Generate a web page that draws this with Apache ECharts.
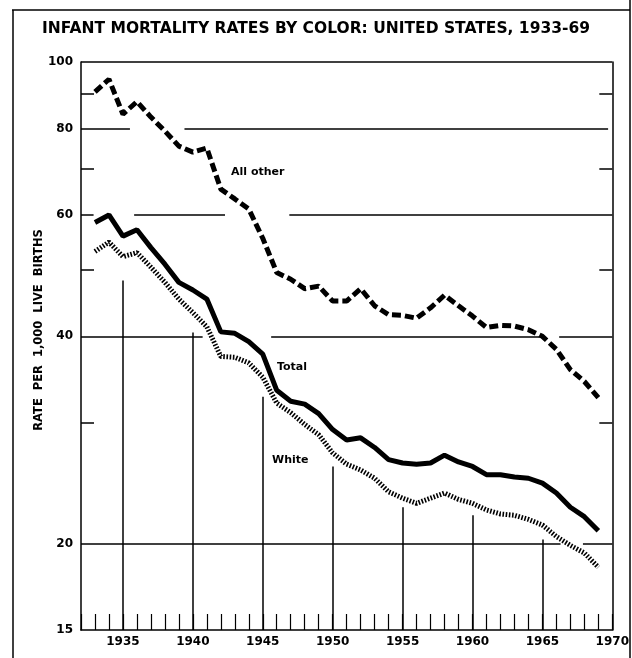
<!DOCTYPE html>
<html>
<head>
<meta charset="utf-8">
<script src="https://cdn.jsdelivr.net/npm/echarts@6/dist/echarts.min.js"></script>
<style>
	html,body{margin:0;padding:0;background:#fff;}
	#chart{width:632px;height:658px;}
</style>
</head>
<body>
<div id="chart"></div>
<script>
// rates per 1,000 live births
var years = [1933,1934,1935,1936,1937,1938,1939,1940,1941,1942,1943,1944,1945,1946,1947,1948,1949,1950,1951,1952,
	1953,1954,1955,1956,1957,1958,1959,1960,1961,1962,1963,1964,1965,1966,1967,1968,1969];
var allOther = [90.5,94.4,84.0,87.6,83.2,79.4,75.5,74.0,75.0,65.4,63.3,61.2,55.5,49.5,48.4,46.9,47.3,45.0,45.0,46.9,
	44.3,43.0,42.9,42.5,44.0,45.9,44.3,42.8,41.2,41.5,41.4,40.9,40.0,38.3,35.8,34.4,32.6];
var total = [58.5,60.0,55.9,57.1,53.8,50.9,47.9,46.7,45.3,40.6,40.4,39.3,37.7,33.4,32.2,31.9,30.9,29.3,28.3,28.5,
	27.6,26.5,26.2,26.1,26.2,26.9,26.3,25.9,25.2,25.2,25.0,24.9,24.5,23.7,22.6,21.9,20.9];
var white = [53.1,54.8,52.2,52.9,50.4,47.9,45.3,43.3,41.3,37.4,37.3,36.6,34.9,32.0,31.0,29.8,28.8,27.1,26.1,25.6,
	24.9,23.8,23.3,22.9,23.3,23.7,23.2,22.9,22.4,22.1,22.0,21.7,21.3,20.5,19.9,19.4,18.5];

var yLabels = [15,20,40,60,80,100];
var yMinor = [30,50,70,90];
var xLabels = [1935,1940,1945,1950,1955,1960,1965,1970];

function pairs(vals){
	var arr = [];
	for(var i = 0 ; i < years.length ; i++){
		arr.push([years[i], vals[i]]);
	}
	return arr;
}

function seg(x1,y1,x2,y2){
	return [{coord:[x1,y1]},{coord:[x2,y2]}];
}

initChart();

function initChart(){
	var font = 'DejaVu Sans';
	var myChart = echarts.init(document.getElementById('chart'));

	// broken grid lines and the tall year lines, as drawn in the original
	var guides = [
		seg(1932,100,1970,100),
		seg(1932,80,1935.5,80), seg(1939.4,80,1969.7,80),
		seg(1932,60,1932.9,60), seg(1935.8,60,1942.3,60), seg(1946.9,60,1970,60),
		seg(1932,40,1940.7,40), seg(1945.6,40,1964.8,40), seg(1966.2,40,1970,40),
		seg(1932,20,1966.3,20), seg(1967.9,20,1970,20),
		seg(1935,15,1935,48.2), seg(1940,15,1940,40.5), seg(1945,15,1945,32.7),
		seg(1950,15,1950,25.9), seg(1955,15,1955,22.6), seg(1960,15,1960,22.0),
		seg(1965,15,1965,20.3)
	];

	var yAxisBase = function(pos){
		return {
			type : 'log',
			logBase : 10,
			min : 15,
			max : 100,
			position : pos,
			axisLine : { show : true, lineStyle : { color : '#000', width : 1.5 } },
			axisTick : { show : true, inside : true, length : 13, customValues : yMinor,
				lineStyle : { color : '#000', width : 1.5 } },
			splitLine : { show : false },
			axisLabel : { show : false }
		};
	};
	var yLeft = yAxisBase('left');
	yLeft.axisLabel = { show : true, customValues : yLabels, margin : 8, color : '#000',
		fontFamily : font, fontWeight : 'bold', fontSize : 12,
		formatter : function(v){ return String(v); } };
	var yRight = yAxisBase('right');

	var option = {
		animation : false,
		backgroundColor : '#fff',
		title : {
			text : 'INFANT MORTALITY RATES BY COLOR: UNITED STATES, 1933-69',
			left : 'center',
			top : 16,
			textStyle : { fontFamily : font, fontWeight : 'bold', fontSize : 15.5, color : '#000' }
		},
		grid : {
			left : 81,
			right : 19,
			top : 62,
			bottom : 28
		},
		xAxis : {
			type : 'value',
			min : 1932,
			max : 1970,
			interval : 1,
			axisLine : { show : true, lineStyle : { color : '#000', width : 1.5 } },
			axisTick : { show : true, inside : true, length : 16, lineStyle : { color : '#000', width : 1.2 } },
			splitLine : { show : false },
			axisLabel : { customValues : xLabels, margin : 6, color : '#000',
				fontFamily : font, fontWeight : 'bold', fontSize : 12,
				formatter : function(v){ return String(v); } }
		},
		yAxis : [ yLeft, yRight ],
		graphic : [
			{ type : 'line', shape : { x1 : 12, y1 : 10, x2 : 630, y2 : 10 }, style : { stroke : '#000', lineWidth : 1.5 } },
			{ type : 'line', shape : { x1 : 13, y1 : 10, x2 : 13, y2 : 658 }, style : { stroke : '#000', lineWidth : 1.5 } },
			{ type : 'line', shape : { x1 : 630, y1 : 0, x2 : 630, y2 : 658 }, style : { stroke : '#000', lineWidth : 1.5 } },
			{ type : 'text', x : 39, y : 330, rotation : Math.PI / 2,
				style : { text : 'RATE  PER  1,000  LIVE  BIRTHS', align : 'center', verticalAlign : 'middle',
					font : 'bold 11.5px "DejaVu Sans"', fill : '#000' } },
			{ type : 'text', x : 231, y : 172, style : { text : 'All other', verticalAlign : 'middle',
				font : 'bold 11px "DejaVu Sans"', fill : '#000' } },
			{ type : 'text', x : 277, y : 367, style : { text : 'Total', verticalAlign : 'middle',
				font : 'bold 11px "DejaVu Sans"', fill : '#000' } },
			{ type : 'text', x : 272, y : 460, style : { text : 'White', verticalAlign : 'middle',
				font : 'bold 11px "DejaVu Sans"', fill : '#000' } }
		],
		series : [ {
			name : 'All other',
			type : 'line',
			data : pairs(allOther),
			showSymbol : false,
			lineStyle : { color : '#000', width : 5, type : [9,4] },
			markLine : {
				silent : true,
				symbol : 'none',
				label : { show : false },
				lineStyle : { color : '#000', width : 1.5, type : 'solid' },
				data : guides
			}
		}, {
			name : 'Total',
			type : 'line',
			data : pairs(total),
			showSymbol : false,
			lineStyle : { color : '#000', width : 5 }
		}, {
			name : 'White',
			type : 'line',
			data : pairs(white),
			showSymbol : false,
			lineStyle : { color : '#000', width : 5, type : [1.6,1.6] }
		} ]
	};

	myChart.setOption(option);
}
</script>
</body>
</html>
